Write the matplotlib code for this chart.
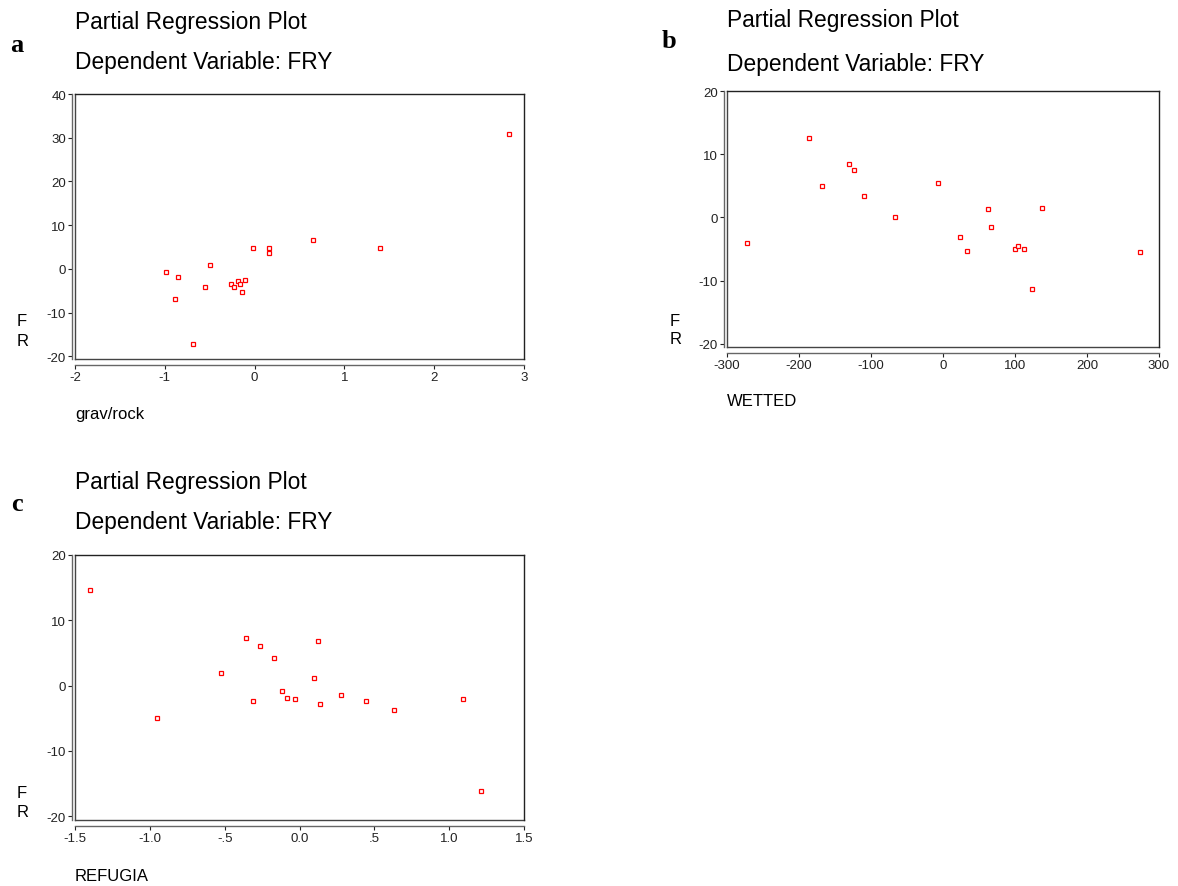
import matplotlib.pyplot as plt
from matplotlib.lines import Line2D

# panel a: grav/rock
grav_x = [2.83, -0.99, -0.85, -0.89, -0.69, -0.50, -0.55, -0.26, -0.23,
          -0.19, -0.16, -0.11, -0.14, -0.02, 0.16, 0.165, 0.65, 1.40]
grav_y = [30.8, -0.8, -1.8, -6.9, -17.2, 0.8, -4.1, -3.5, -4.1,
          -2.8, -3.4, -2.5, -5.3, 4.7, 4.7, 3.7, 6.5, 4.7]

# panel b: WETTED
wet_x = [-186, -168, -131, -124, -110, -67, -6.5, -272, 23,
         34, 63, 66, 100, 104, 113, 123, 138, 273]
wet_y = [12.6, 4.9, 8.4, 7.5, 3.4, 0.1, 5.5, -4.0, -3.1,
         -5.3, 1.35, -1.5, -5.0, -4.5, -5.0, -11.4, 1.45, -5.4]

# panel c: REFUGIA
ref_x = [-1.40, -0.95, -0.527, -0.356, -0.312, -0.264, -0.169, -0.116, -0.083,
         -0.030, 0.10, 0.125, 0.134, 0.28, 0.446, 0.63, 1.09, 1.21]
ref_y = [14.6, -5.0, 1.9, 7.3, -2.3, 6.1, 4.2, -0.85, -1.9,
         -2.1, 1.2, 6.8, -2.8, -1.5, -2.4, -3.8, -2.1, -16.1]

W, H = 1178, 887
plt.rcParams['font.family'] = ['Liberation Sans', 'DejaVu Sans']
plt.rcParams['axes.unicode_minus'] = False
fig = plt.figure(figsize=(W / 100, H / 100), dpi=100)


def px_axes(left, top, right, bottom):
    return fig.add_axes([left / W, 1 - bottom / H, (right - left) / W, (bottom - top) / H])


def fig_text(x, y, s, **kw):
    fig.text(x / W, 1 - y / H, s, **kw)


def panel(box, xs, ys, xlim, ylim, xticks, xticklabels, yticks,
          letter, letter_pos, title_y, ylab_y, xlabel, xlabel_y):
    left, top, right, bottom = box
    ax = px_axes(left, top, right, bottom)
    ax.plot(xs, ys, ls='none', marker='s', ms=3.0, mfc='white', mec='red', mew=0.9)
    ax.set_xlim(xlim)
    ax.set_ylim(ylim)
    ax.set_xticks(xticks)
    ax.set_xticklabels(xticklabels)
    ax.set_yticks(yticks)
    ax.tick_params(labelsize=9.5, length=3, width=0.8, pad=1.5, colors='#222222')
    # axis lines with ticks sit just outside the frame
    ax.spines['left'].set_position(('outward', 2))
    ax.spines['bottom'].set_position(('outward', 4))
    for s in ax.spines.values():
        s.set_linewidth(1.0)
        s.set_color('#222222')
    ax.spines['left'].set_color('#666666')
    ax.spines['bottom'].set_color('#666666')
    # frame lines at left and bottom
    ax.add_line(Line2D([0, 0], [0, 1], transform=ax.transAxes, color='#444444', lw=1.0, clip_on=False))
    ax.add_line(Line2D([0, 1], [0, 0], transform=ax.transAxes, color='#444444', lw=1.0, clip_on=False))

    fig_text(left, title_y[0], 'Partial Regression Plot', fontsize=16.4, va='center')
    fig_text(left, title_y[1], 'Dependent Variable: FRY', fontsize=16.4, va='center')
    fig_text(letter_pos[0], letter_pos[1], letter, fontsize=19, fontweight='bold',
             family='Liberation Serif', va='center', ha='center')
    fig_text(ylab_y[0], ylab_y[1], 'F', fontsize=12, va='center')
    fig_text(ylab_y[0], ylab_y[2], 'R', fontsize=12, va='center')
    fig_text(left, xlabel_y, xlabel, fontsize=12, va='center')
    return ax


panel((75, 95, 524, 360), grav_x, grav_y, (-2, 3), (-20.6, 40),
      [-2, -1, 0, 1, 2, 3], ['-2', '-1', '0', '1', '2', '3'],
      [-20, -10, 0, 10, 20, 30, 40],
      'a', (17, 45), (22, 63), (17, 322, 342), 'grav/rock', 415)

panel((727, 92, 1159, 348), wet_x, wet_y, (-300, 300), (-20.5, 20),
      [-300, -200, -100, 0, 100, 200, 300],
      ['-300', '-200', '-100', '0', '100', '200', '300'],
      [-20, -10, 0, 10, 20],
      'b', (669, 42), (20, 65), (670, 322, 340), 'WETTED', 402)

panel((75, 556, 524, 821), ref_x, ref_y, (-1.5, 1.5), (-20.6, 20),
      [-1.5, -1.0, -0.5, 0.0, 0.5, 1.0, 1.5],
      ['-1.5', '-1.0', '-.5', '0.0', '.5', '1.0', '1.5'],
      [-20, -10, 0, 10, 20],
      'c', (17, 505), (482, 523), (17, 794, 813), 'REFUGIA', 877)

fig.savefig('out.png', dpi=100)
